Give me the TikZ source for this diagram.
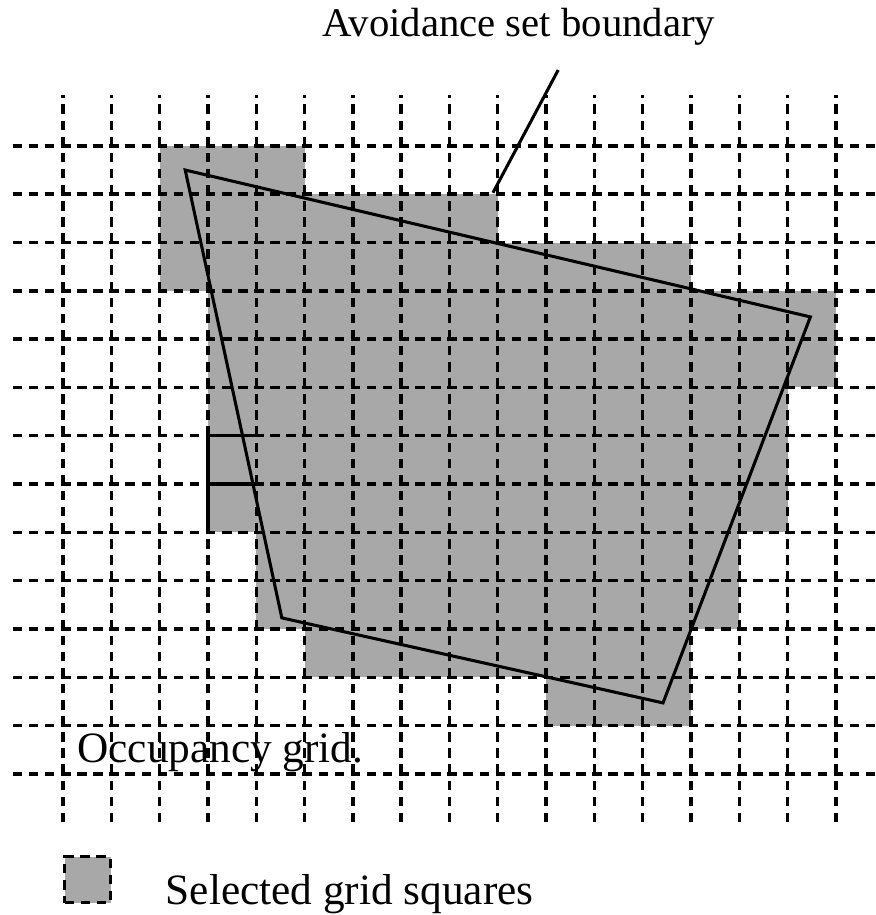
\documentclass[tikz,border=0pt]{standalone}
\usepackage{fontspec}
\setmainfont{Liberation Serif}
\usetikzlibrary{positioning}
\definecolor{halftone}{gray}{0.66}

\begin{document}
\begin{tikzpicture}[
  gridln/.style={line width=2pt, dash pattern=on 5.6pt off 3.88pt},
  selcell/.style={fill=halftone},
  bound/.style={line width=1.8pt, line join=miter},
  lbl/.style={inner sep=0pt, anchor=base west, font=\fontsize{25.5}{30}\selectfont}
]
  \useasboundingbox (-1.304,-2.92) rectangle (16.81,16.02);

  % selected grid squares, one row at a time from the top
  \foreach \r/\a/\b in {0/2/5,1/2/9,2/2/13,3/3/16,4/3/16,5/3/15,6/3/15,
                        7/3/15,8/4/14,9/4/14,10/5/13,11/10/13}
    \fill[selcell] (\a,12-\r) rectangle (\b,13-\r);

  % occupancy grid
  \foreach \i in {0,...,16}
    \draw[gridln] (\i,-1) -- (\i,14.05);
  \foreach \j in {0,...,13}
    \draw[gridln] (-1.04,\j) -- (16.81,\j);
  \draw[line width=1.9pt] (3,5) -- (3,7) -- (4,7) (3,6) -- (4,6);

  % avoidance set
  \coordinate (p1) at (2.53,12.5);
  \coordinate (p2) at (15.47,9.46);
  \coordinate (p3) at (12.42,1.47);
  \coordinate (p4) at (4.53,3.23);
  \draw[bound] (p1) -- (p2) -- (p3) -- (p4) -- cycle;

  \node[lbl, font=\fontsize{24}{28}\selectfont] (avoid) at (5.36,15.26) {Avoidance set boundary};
  \coordinate (lead) at (10.25,14.57);
  \coordinate (hit) at (8.9,12.03);
  \draw[bound] (lead) -- (hit);

  \node[lbl] (occ) at (0.29,0.23) {Occupancy grid.};

  % legend
  \node[selcell, draw, gridln, minimum size=0.95cm, inner sep=0pt, anchor=south west] (legbox) at (0,-2.7) {};
  \node[lbl, right=1.1cm of legbox.south east, anchor=base west] (legtext) {Selected grid squares};
\end{tikzpicture}
\end{document}
